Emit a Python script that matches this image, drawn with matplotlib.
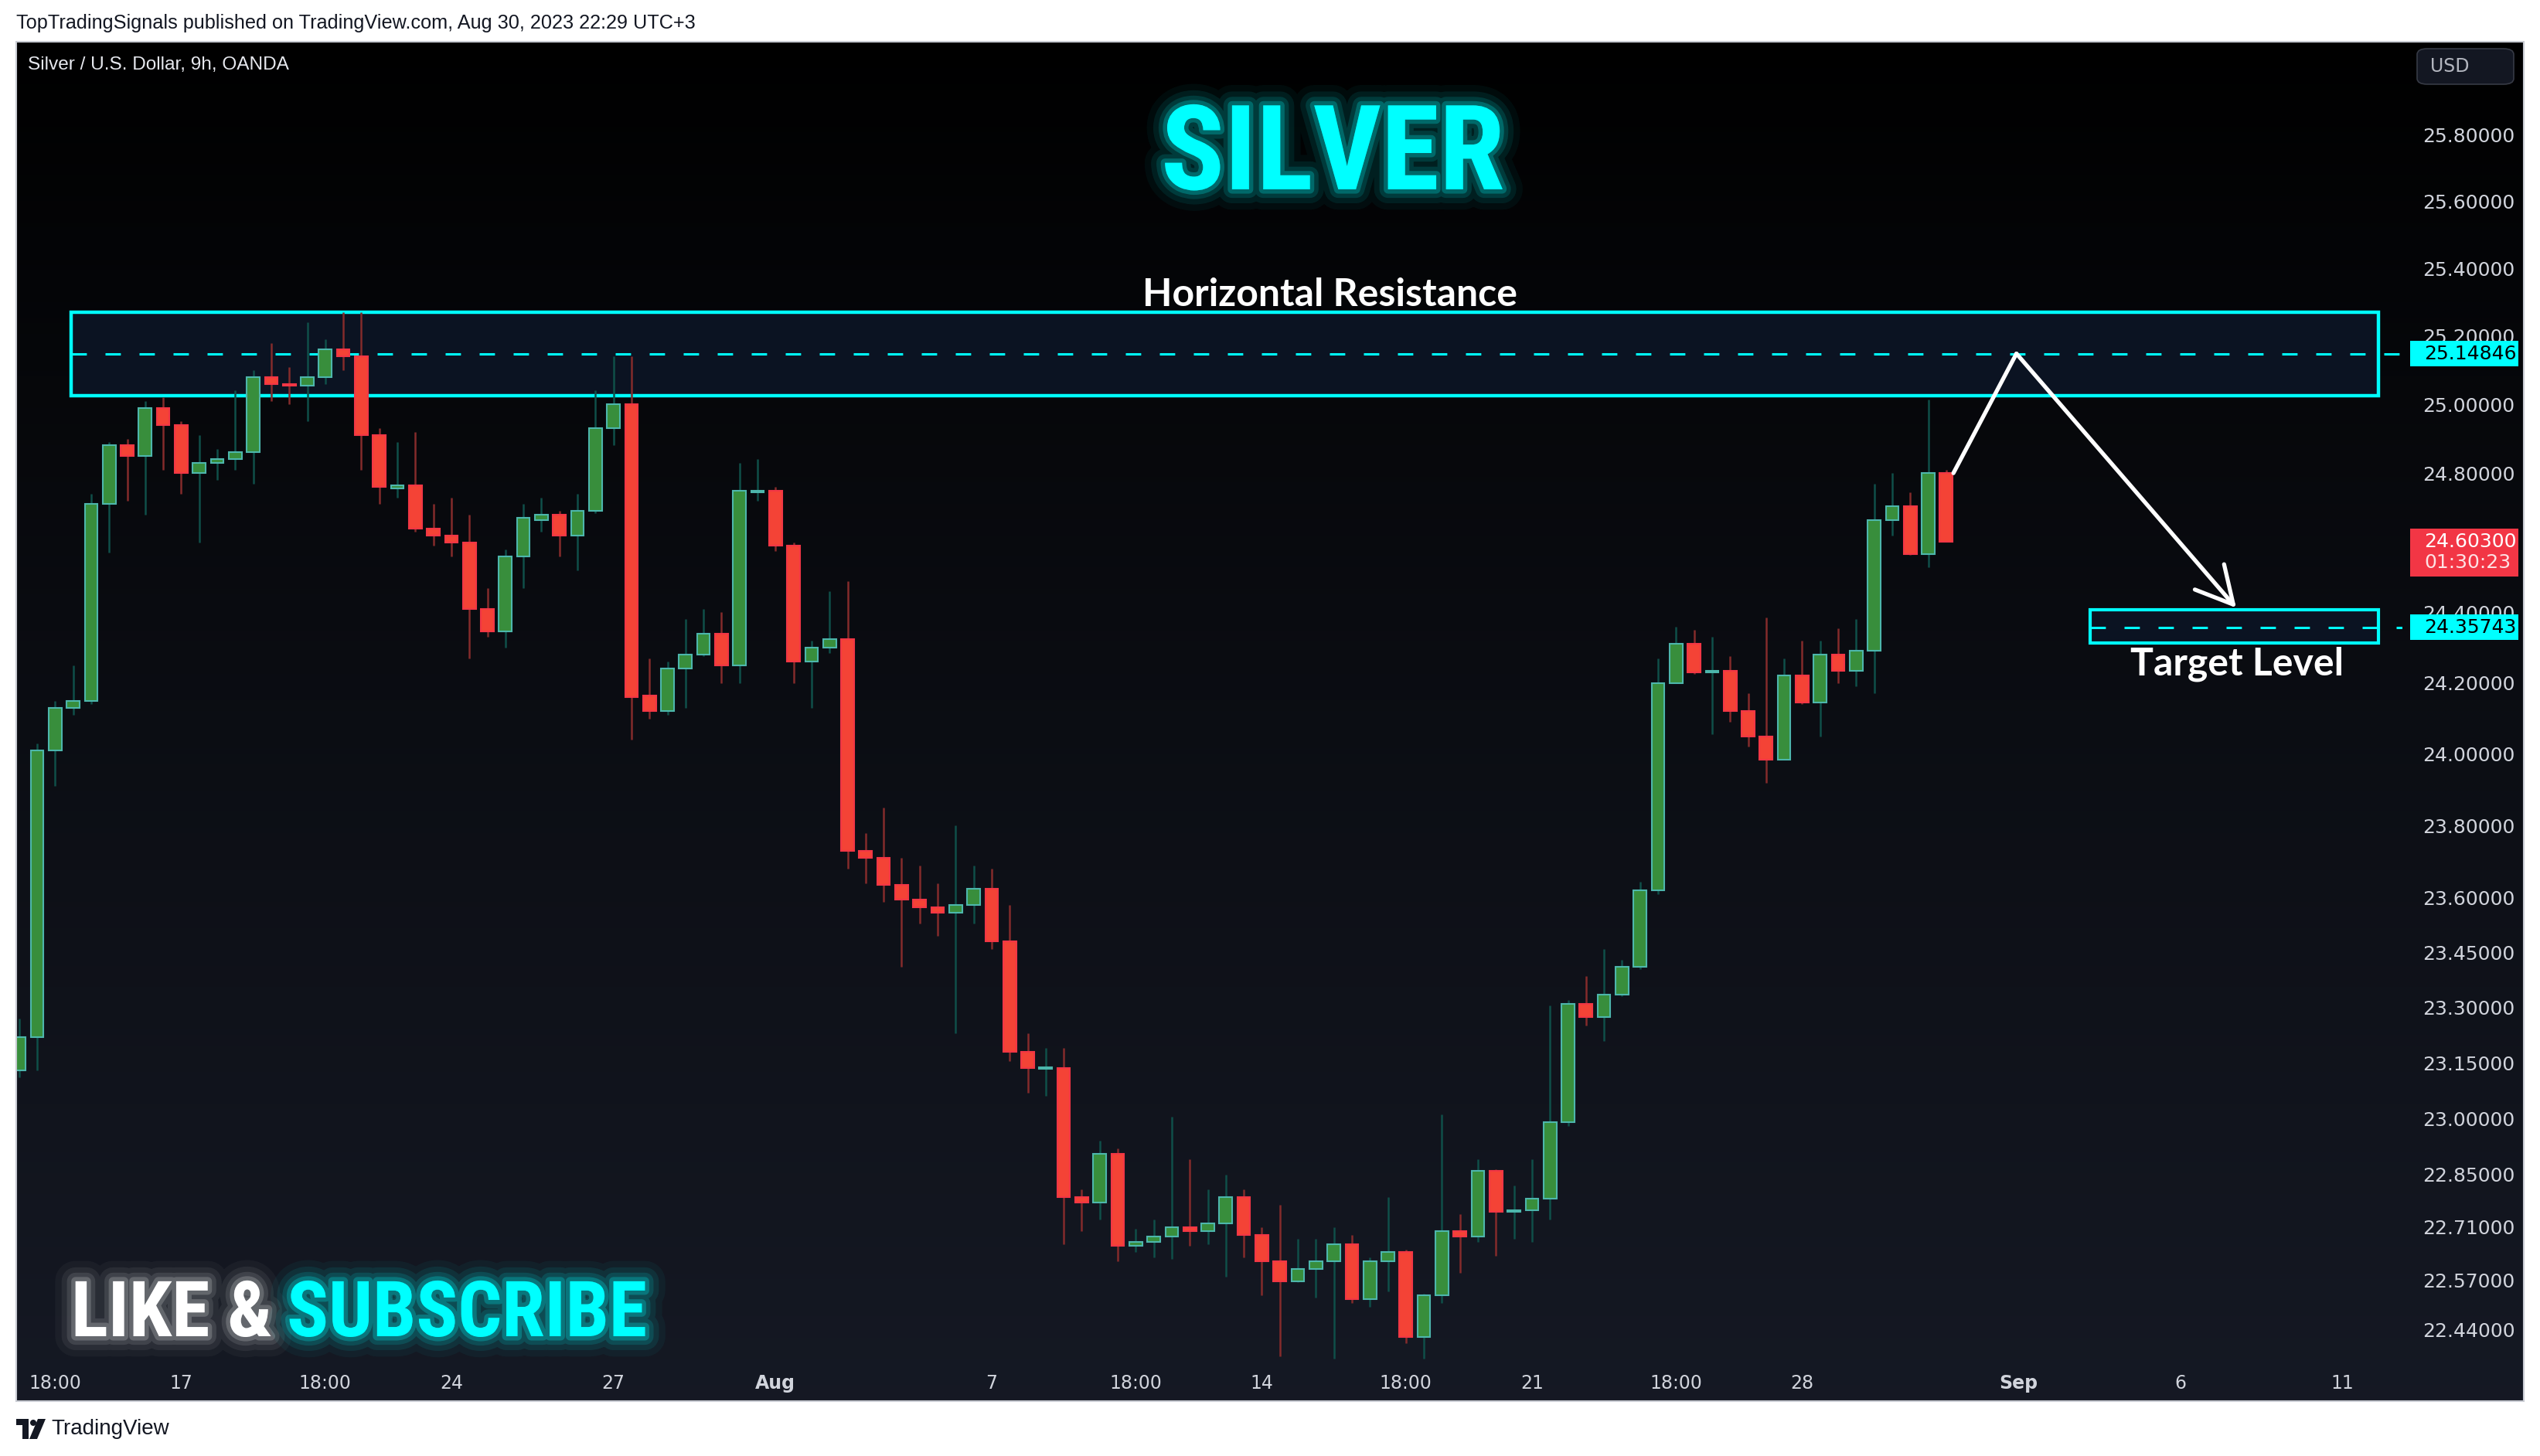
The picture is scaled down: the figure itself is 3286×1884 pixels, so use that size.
import matplotlib.pyplot as plt
import matplotlib.patheffects as pe
from matplotlib import font_manager as fm
from matplotlib.patches import Rectangle, FancyBboxPatch, Polygon, Circle
import numpy as np

# OHLC of the 9h silver candles
opens = [23.13, 23.22, 24.01, 24.13, 24.15, 24.71, 24.88, 24.85, 24.99, 24.94,
         24.80, 24.83, 24.84, 24.86, 25.08, 25.06, 25.055, 25.08, 25.16, 25.14,
         24.91, 24.755, 24.765, 24.64, 24.62, 24.60, 24.41, 24.345, 24.56, 24.665,
         24.68, 24.62, 24.69, 24.93, 25.00, 24.165, 24.12, 24.24, 24.28, 24.34,
         24.25, 24.745, 24.75, 24.59, 24.26, 24.30, 24.325, 23.73, 23.71, 23.635,
         23.595, 23.575, 23.56, 23.58, 23.625, 23.48, 23.18, 23.133, 23.135, 22.79,
         22.775, 22.905, 22.66, 22.67, 22.685, 22.71, 22.70, 22.72, 22.79, 22.69,
         22.62, 22.567, 22.60, 22.62, 22.665, 22.52, 22.62, 22.645, 22.42, 22.53,
         22.70, 22.685, 22.86, 22.75, 22.755, 22.785, 22.99, 23.31, 23.275, 23.335,
         23.41, 23.62, 24.20, 24.31, 24.23, 24.235, 24.12, 24.05, 23.985, 24.22,
         24.145, 24.28, 24.235, 24.29, 24.665, 24.705, 24.567, 24.80]
highs = [23.27, 24.03, 24.15, 24.25, 24.74, 24.89, 24.90, 25.01, 25.02, 24.95,
         24.91, 24.87, 25.04, 25.10, 25.18, 25.11, 25.24, 25.19, 25.27, 25.27,
         24.93, 24.89, 24.92, 24.71, 24.73, 24.68, 24.47, 24.58, 24.71, 24.73,
         24.69, 24.74, 25.04, 25.14, 25.14, 24.27, 24.26, 24.38, 24.41, 24.40,
         24.83, 24.84, 24.76, 24.60, 24.32, 24.46, 24.49, 23.78, 23.85, 23.71,
         23.69, 23.64, 23.80, 23.69, 23.68, 23.58, 23.23, 23.19, 23.19, 22.81,
         22.94, 22.92, 22.705, 22.73, 23.005, 22.89, 22.81, 22.85, 22.81, 22.71,
         22.77, 22.68, 22.68, 22.71, 22.69, 22.63, 22.79, 22.65, 22.535, 23.01,
         22.745, 22.89, 22.865, 22.82, 22.89, 23.305, 23.32, 23.385, 23.46, 23.43,
         23.645, 24.27, 24.36, 24.35, 24.33, 24.275, 24.17, 24.385, 24.27, 24.32,
         24.32, 24.355, 24.38, 24.77, 24.80, 24.745, 25.015, 24.81]
lows = [23.11, 23.13, 23.91, 24.11, 24.14, 24.57, 24.72, 24.68, 24.81, 24.74,
        24.60, 24.78, 24.81, 24.77, 25.01, 25.00, 24.95, 25.06, 25.10, 24.81,
        24.71, 24.73, 24.63, 24.59, 24.56, 24.27, 24.33, 24.30, 24.47, 24.63,
        24.56, 24.52, 24.685, 24.88, 24.04, 24.10, 24.11, 24.13, 24.275, 24.20,
        24.20, 24.72, 24.575, 24.20, 24.13, 24.285, 23.68, 23.64, 23.59, 23.41,
        23.53, 23.495, 23.23, 23.53, 23.46, 23.155, 23.07, 23.06, 22.665, 22.70,
        22.73, 22.62, 22.645, 22.63, 22.625, 22.66, 22.665, 22.58, 22.63, 22.53,
        22.37, 22.565, 22.525, 22.365, 22.51, 22.50, 22.54, 22.405, 22.365, 22.51,
        22.59, 22.67, 22.635, 22.68, 22.67, 22.73, 22.98, 23.25, 23.21, 23.33,
        23.405, 23.61, 24.20, 24.225, 24.055, 24.09, 24.02, 23.92, 23.985, 24.14,
        24.05, 24.20, 24.19, 24.17, 24.62, 24.565, 24.53, 24.603]
closes = [23.22, 24.01, 24.13, 24.15, 24.71, 24.88, 24.85, 24.99, 24.94, 24.80,
          24.83, 24.84, 24.86, 25.08, 25.06, 25.055, 25.08, 25.16, 25.14, 24.91,
          24.76, 24.765, 24.64, 24.62, 24.60, 24.41, 24.345, 24.56, 24.67, 24.68,
          24.62, 24.69, 24.93, 25.00, 24.16, 24.12, 24.24, 24.28, 24.34, 24.25,
          24.75, 24.75, 24.59, 24.26, 24.30, 24.325, 23.73, 23.71, 23.635, 23.595,
          23.575, 23.56, 23.58, 23.625, 23.48, 23.18, 23.135, 23.137, 22.79, 22.775,
          22.905, 22.66, 22.67, 22.685, 22.71, 22.70, 22.72, 22.79, 22.69, 22.62,
          22.567, 22.60, 22.62, 22.665, 22.52, 22.62, 22.645, 22.42, 22.53, 22.70,
          22.685, 22.86, 22.75, 22.755, 22.785, 22.99, 23.31, 23.275, 23.335, 23.41,
          23.62, 24.20, 24.31, 24.23, 24.235, 24.12, 24.05, 23.985, 24.22, 24.145,
          24.28, 24.235, 24.29, 24.665, 24.705, 24.567, 24.80, 24.603]

price_ticks = [25.8, 25.6, 25.4, 25.2, 25.0, 24.8, 24.4, 24.2, 24.0, 23.8, 23.6,
               23.45, 23.3, 23.15, 23.0, 22.85, 22.71, 22.57, 22.44]
time_ticks = [2, 9, 17, 24, 33, 42, 54, 62, 69, 77, 84, 92, 99, 111, 120, 129]
time_labels = ['18:00', '17', '18:00', '24', '27', 'Aug', '7', '18:00', '14',
               '18:00', '21', '18:00', '28', 'Sep', '6', '11']

resistance = 25.14846
resistance_zone = (25.025, 25.27)
target = 24.35743
target_zone = (24.312, 24.407)
last_price = 24.603
countdown = '01:30:23'
arrow_path = [(107.4, 24.80), (110.9, 25.14846), (123.1, 24.413)]

# ---- layout (pixels of the 3286x1884 canvas, measured from the top) ----
W, H = 3286, 1884
def frect(l, t, r, b):
    return [l / W, 1 - b / H, (r - l) / W, (b - t) / H]

names = {f.name for f in fm.fontManager.ttflist}
def pick(*cands):
    for c in cands:
        if c in names:
            return c
    return 'DejaVu Sans'

cond = pick('Roboto Condensed', 'Liberation Sans Narrow', 'Open Sans Condensed', 'Roboto')
bold_ui = pick('Lato', 'Open Sans', 'Roboto')
ui = pick('Liberation Sans', 'Roboto')

CYAN = '#00ffff'
AXC = '#d1d4dc'

fig = plt.figure(figsize=(W / 100, H / 100), dpi=100, facecolor='white')

# panel background gradient
bg = fig.add_axes(frect(21, 54, 3265, 1813))
grad = np.linspace(0, 1, 256)[:, None]
top_c = np.array([0.0, 0.0, 0.0])
bot_c = np.array([0.083, 0.098, 0.141])
img = top_c + (bot_c - top_c) * grad[..., None] ** 0.9
bg.imshow(img, aspect='auto', extent=(0, 1, 0, 1))
bg.set_axis_off()
fig.patches.append(Rectangle((21 / W, 1 - 1813 / H), (3265 - 21) / W, (1813 - 54) / H,
                             transform=fig.transFigure, fill=False, ec='#c9ccd3', lw=1.5))

# candle pane
ax = fig.add_axes(frect(21, 54, 3108, 1768))
ax.set_facecolor('none')
ax.set_yscale('log')
ymax, ymin = 26.081, 22.344
ax.set_ylim(ymin, ymax)
ax.set_xlim(-0.159, 132.33)
for s in ax.spines.values():
    s.set_visible(False)

o = np.array(opens); h = np.array(highs); l = np.array(lows); c = np.array(closes)
x = np.arange(len(o))
up = c >= o
wick_col = np.where(up, '#0f4f49', '#842b2b')
ax.vlines(x, l, h, colors=wick_col, lw=1.8, zorder=3)
ax.bar(x[up], np.abs(c - o)[up], bottom=np.minimum(o, c)[up], width=0.72,
       color='#388e3c', edgecolor='#4db6ac', linewidth=1.5, zorder=4)
ax.bar(x[~up], np.abs(c - o)[~up], bottom=np.minimum(o, c)[~up], width=0.72,
       color='#f44336', edgecolor='#f23645', linewidth=1.5, zorder=4)

# zones and levels
zone_fc = '#0b1322'
ax.add_patch(Rectangle((2.89, resistance_zone[0]), 131.0 - 2.89,
                       resistance_zone[1] - resistance_zone[0],
                       fc=zone_fc, ec=CYAN, lw=3.2, zorder=1))
ax.add_patch(Rectangle((115.0, target_zone[0]), 131.0 - 115.0,
                       target_zone[1] - target_zone[0],
                       fc=zone_fc, ec=CYAN, lw=3.0, zorder=1))
ax.plot([2.89, 132.33], [resistance, resistance], color=CYAN, lw=2.2,
        ls=(0, (6.5, 7.9)), zorder=2, solid_capstyle='butt')
ax.plot([115.0, 132.33], [target, target], color=CYAN, lw=2.2,
        ls=(0, (6.5, 7.9)), zorder=2)

# projected path
ax.plot([p[0] for p in arrow_path[:2]], [p[1] for p in arrow_path[:2]],
        color='white', lw=3.8, solid_capstyle='round', zorder=6)
ax.annotate('', xy=arrow_path[2], xytext=arrow_path[1],
            arrowprops=dict(arrowstyle='->,head_length=1.7,head_width=0.9',
                            color='white', lw=3.8, shrinkA=0, shrinkB=0,
                            mutation_scale=20), zorder=6)

# price scale
ax.yaxis.tick_right()
ax.set_yticks(price_ticks)
ax.set_yticklabels([f'{p:.5f}' for p in price_ticks])
ax.yaxis.set_minor_locator(plt.NullLocator())
ax.tick_params(axis='y', length=0, pad=19, labelsize=18, labelcolor=AXC)

# time scale
ax.set_xticks(time_ticks)
ax.set_xticklabels(time_labels)
ax.tick_params(axis='x', length=0, pad=7, labelsize=17, labelcolor=AXC)
for t in ax.get_xticklabels():
    if t.get_text() in ('Aug', 'Sep'):
        t.set_fontweight('bold')

# price scale overlay labels
ps = fig.add_axes(frect(3108, 54, 3265, 1768), sharey=ax)
ps.set_facecolor('none')
ps.set_xlim(0, 1)
ps.set_axis_off()
k = (1768 - 54) / np.log(ymax / ymin)
def band(p, up_px, down_px):
    return p * np.exp(-down_px / k), p * np.exp(up_px / k)
xl, xr = (3118 - 3108) / 157, (3258 - 3108) / 157
tx = (3136 - 3108) / 157
for p, txt in [(resistance, '25.14846'), (target, '24.35743')]:
    lo, hi = band(p, 16.5, 16.5)
    ps.add_patch(Rectangle((xl, lo), xr - xl, hi - lo, fc=CYAN, ec='none', zorder=5))
    ps.text(tx, p, txt, ha='left', va='center', fontsize=18, color='black', zorder=6)
lo, hi = band(last_price, 16.5, 45.5)
ps.add_patch(Rectangle((xl, lo), xr - xl, hi - lo, fc='#f23645', ec='none', zorder=5))
ps.text(tx, last_price, f'{last_price:.5f}', ha='left', va='center', fontsize=18,
        color='white', zorder=6)
ps.text(tx, last_price * np.exp(-27 / k), countdown, ha='left', va='center',
        fontsize=18, color='#fde2e4', zorder=6)

# USD button
fig.patches.append(FancyBboxPatch((3127 / W, 1 - 109 / H), 125 / W, 46 / H,
                                  boxstyle='round,pad=0,rounding_size=0.004',
                                  transform=fig.transFigure, fc='#131722',
                                  ec='#363a45', lw=1.2))
fig.text(3169 / W, 1 - 86 / H, 'USD', ha='center', va='center', fontsize=17,
         color='#b2b5be')

# headers
fig.text(21 / W, 1 - 30 / H, 'TopTradingSignals published on TradingView.com, Aug 30, 2023 22:29 UTC+3',
         ha='left', va='center', fontsize=18.2, color='#131722', family=ui)
fig.text(36 / W, 1 - 84 / H, 'Silver / U.S. Dollar, 9h, OANDA', ha='left', va='center',
         fontsize=17.6, color='#e6e8ee', family=ui)

def glow(col, a=1.0):
    ws = (38, 26, 16, 8)
    als = (0.045, 0.08, 0.13, 0.24)
    return [pe.Stroke(linewidth=w, foreground=col, alpha=al * a) for w, al in zip(ws, als)] + [pe.Normal()]

fig.text(1724 / W, 1 - 245 / H, 'SILVER', ha='center', va='baseline', fontsize=110,
         fontweight='bold', family=cond, fontstretch='condensed', color=CYAN,
         path_effects=glow(CYAN))
fig.text(92 / W, 1 - 1729 / H, 'LIKE &', ha='left', va='baseline', fontsize=72,
         fontweight='bold', family=cond, fontstretch='condensed', color='white',
         path_effects=glow('white', 0.8))
fig.text(371 / W, 1 - 1729 / H, 'SUBSCRIBE', ha='left', va='baseline', fontsize=72,
         fontweight='bold', family=cond, fontstretch='condensed', color=CYAN,
         path_effects=glow(CYAN))

fig.text(1720 / W, 1 - 396 / H, 'Horizontal Resistance', ha='center', va='baseline',
         fontsize=36, fontweight='bold', family=bold_ui, color='white')
fig.text(2894 / W, 1 - 874 / H, 'Target Level', ha='center', va='baseline',
         fontsize=36, fontweight='bold', family=bold_ui, color='white')

# TradingView footer
lg = fig.add_axes(frect(21, 1836, 60, 1862))
lg.set_xlim(0, 39); lg.set_ylim(0, 26); lg.set_axis_off()
lg.add_patch(Polygon([(0, 26), (16, 26), (16, 0), (8, 0), (8, 18), (0, 18)], fc='#131722'))
lg.add_patch(Circle((22, 21), 4, fc='#131722'))
lg.add_patch(Polygon([(28, 26), (38, 26), (27, 0), (17, 0)], fc='#131722'))
fig.text(66 / W, 1 - 1849 / H, 'TradingView', ha='left', va='center', fontsize=20,
         color='#131722', family=ui)

fig.savefig('out.png', dpi=100, facecolor='white')
